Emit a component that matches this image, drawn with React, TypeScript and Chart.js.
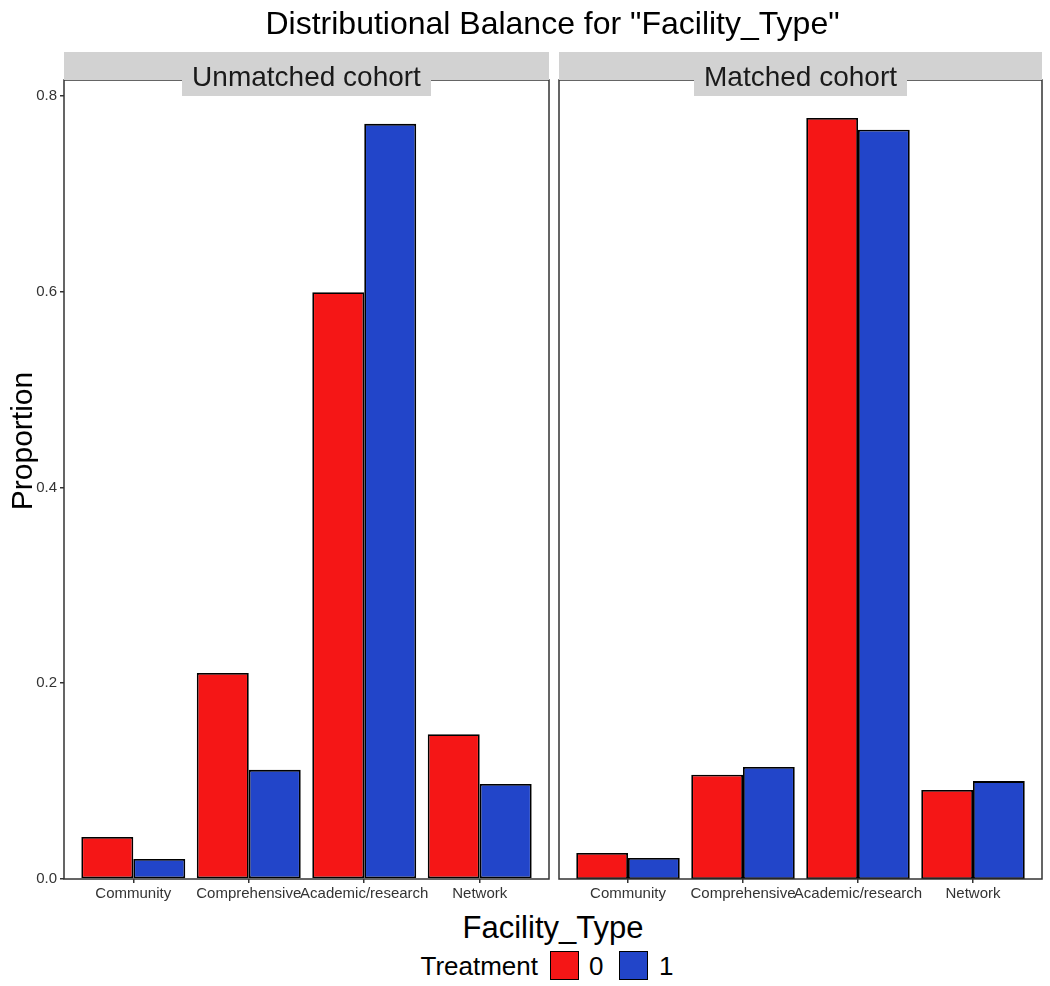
import React, { useEffect, useRef } from "react";
import { Chart, registerables } from "chart.js";

Chart.register(...registerables);

// ---- data ----
const categories = ["Community", "Comprehensive", "Academic/research", "Network"];
const unmatchedT0 = [0.043, 0.2105, 0.5995, 0.148];
const unmatchedT1 = [0.0205, 0.1115, 0.7715, 0.097];
const matchedT0 = [0.0265, 0.1065, 0.7775, 0.091];
const matchedT1 = [0.0215, 0.1145, 0.7655, 0.1];
const yTicks = [0, 0.2, 0.4, 0.6, 0.8];
const panelTitles = ["Unmatched cohort", "Matched cohort"];
const treatmentLevels = ["0", "1"];
const chartTitle = 'Distributional Balance for "Facility_Type"';
const xTitle = "Facility_Type";
const yTitle = "Proportion";
const legendTitle = "Treatment";

const RED = "#F51616";
const BLUE = "#2245C9";
const FONT = "'Liberation Sans', Arial, Helvetica, sans-serif";
const Y_MAX = 0.8163;

const panelBorder = {
  id: "panelBorder",
  afterDatasetsDraw(chart: any) {
    const { ctx, chartArea: a } = chart;
    ctx.save();
    ctx.strokeStyle = "#333333";
    ctx.lineWidth = 1.5;
    ctx.strokeRect(a.left, a.top, a.right - a.left, a.bottom - a.top);
    ctx.restore();
  },
};

function Panel(props: {
  t0: number[];
  t1: number[];
  showY: boolean;
  left: number;
  width: number;
  padLeft: number;
  padRight: number;
}) {
  const ref = useRef<HTMLCanvasElement | null>(null);
  useEffect(() => {
    if (!ref.current) return;
    const chart = new Chart(ref.current, {
      type: "bar",
      data: {
        datasets: [
          {
            label: treatmentLevels[0],
            data: props.t0.map((v, i) => ({ x: i, y: v })),
            backgroundColor: RED,
            borderColor: "#000000",
            borderWidth: 1.8,
            borderSkipped: false,
          },
          {
            label: treatmentLevels[1],
            data: props.t1.map((v, i) => ({ x: i, y: v })),
            backgroundColor: BLUE,
            borderColor: "#000000",
            borderWidth: 1.8,
            borderSkipped: false,
          },
        ] as any,
      },
      options: {
        animation: false,
        responsive: false,
        maintainAspectRatio: false,
        layout: {
          padding: { top: 80, left: props.padLeft, right: props.padRight, bottom: 0 },
        },
        datasets: { bar: { categoryPercentage: 0.9, barPercentage: 1 } } as any,
        plugins: {
          legend: { display: false },
          tooltip: { enabled: false },
          title: { display: false },
        },
        scales: {
          x: {
            type: "linear",
            min: -0.6,
            max: 3.6,
            offset: false,
            afterBuildTicks: (s: any) => {
              s.ticks = categories.map((_, i) => ({ value: i }));
            },
            afterFit: (s: any) => {
              s.height = 31;
            },
            ticks: {
              callback: (v: any) => categories[Math.round(Number(v))],
              font: { family: FONT, size: 15 },
              color: "#333333",
              padding: 2,
              maxRotation: 0,
              minRotation: 0,
              autoSkip: false,
            },
            grid: {
              offset: false,
              drawOnChartArea: false,
              drawTicks: true,
              tickLength: 4,
              color: "#333333",
              lineWidth: 1.5,
            },
            border: { display: false },
          },
          y: {
            display: props.showY,
            min: 0,
            max: Y_MAX,
            afterBuildTicks: (s: any) => {
              s.ticks = yTicks.map((v) => ({ value: v }));
            },
            afterFit: (s: any) => {
              if (props.showY) s.width = 64;
            },
            ticks: {
              callback: (v: any) => Number(v).toFixed(1),
              font: { family: FONT, size: 15 },
              color: "#333333",
              padding: 3,
            },
            grid: {
              drawOnChartArea: false,
              drawTicks: true,
              tickLength: 4,
              color: "#333333",
              lineWidth: 1.5,
            },
            border: { display: false },
          },
        } as any,
      },
      plugins: [panelBorder],
    });
    return () => chart.destroy();
  }, []);
  return (
    <canvas
      ref={ref}
      width={props.width}
      height={910}
      style={{ position: "absolute", left: props.left, top: 0, width: props.width, height: 910 }}
    />
  );
}

function textAt(text: string, fs: number, baseline: number, centerX: number, extra: any = {}) {
  return (
    <div
      style={{
        position: "absolute",
        left: centerX - 500,
        width: 1000,
        top: baseline - 0.8465 * fs,
        height: fs,
        lineHeight: `${fs}px`,
        fontSize: fs,
        fontFamily: FONT,
        textAlign: "center",
        color: "#000",
        whiteSpace: "nowrap",
        ...extra,
      }}
    >
      {text}
    </div>
  );
}

function Strip(props: { text: string; left: number; width: number }) {
  const fs = 28;
  return (
    <>
      <div
        style={{
          position: "absolute",
          left: props.left,
          top: 52,
          width: props.width,
          height: 28,
          background: "#D2D2D2",
        }}
      />
      <div
        style={{
          position: "absolute",
          left: props.left,
          top: 52,
          width: props.width,
          height: 44,
          display: "flex",
          justifyContent: "center",
        }}
      >
        <div
          style={{
            background: "#D2D2D2",
            height: 44,
            padding: "0 10px",
            position: "relative",
            fontFamily: FONT,
            fontSize: fs,
            whiteSpace: "nowrap",
            color: "#1A1A1A",
          }}
        >
          <div style={{ height: 44, lineHeight: `${fs}px`, paddingTop: 35 - 0.8465 * fs, boxSizing: "border-box" }}>
            {props.text}
          </div>
        </div>
      </div>
    </>
  );
}

export default function App() {
  return (
    <div
      style={{
        position: "absolute",
        left: 0,
        top: 0,
        width: 1050,
        height: 986,
        background: "#fff",
        overflow: "hidden",
      }}
    >
      <Panel t0={unmatchedT0} t1={unmatchedT1} showY={true} left={0} width={552} padLeft={0} padRight={3} />
      <Panel t0={matchedT0} t1={matchedT1} showY={false} left={552} width={498} padLeft={7} padRight={8} />
      <Strip text={panelTitles[0]} left={64} width={485} />
      <Strip text={panelTitles[1]} left={559} width={483} />
      {textAt(chartTitle, 32, 34, 552.5)}
      {textAt(xTitle, 31, 938, 553)}
      <div
        style={{
          position: "absolute",
          left: 22 - 200,
          top: 441 - 15,
          width: 400,
          height: 30,
          lineHeight: "30px",
          fontSize: 30,
          fontFamily: FONT,
          textAlign: "center",
          transform: "rotate(-90deg)",
          whiteSpace: "nowrap",
        }}
      >
        {yTitle}
      </div>
      {/* legend */}
      <div
        style={{
          position: "absolute",
          left: 300,
          width: 238,
          top: 975 - 0.8465 * 26,
          height: 26,
          lineHeight: "26px",
          fontSize: 26,
          fontFamily: FONT,
          textAlign: "right",
          whiteSpace: "nowrap",
        }}
      >
        {legendTitle}
      </div>
      <div
        style={{
          position: "absolute",
          left: 550,
          top: 951,
          width: 29,
          height: 29,
          background: RED,
          border: "1.8px solid #000",
          boxSizing: "border-box",
        }}
      />
      <div
        style={{
          position: "absolute",
          left: 589,
          top: 975 - 0.8465 * 26,
          height: 26,
          lineHeight: "26px",
          fontSize: 26,
          fontFamily: FONT,
        }}
      >
        {treatmentLevels[0]}
      </div>
      <div
        style={{
          position: "absolute",
          left: 619,
          top: 951,
          width: 29,
          height: 29,
          background: BLUE,
          border: "1.8px solid #000",
          boxSizing: "border-box",
        }}
      />
      <div
        style={{
          position: "absolute",
          left: 659,
          top: 975 - 0.8465 * 26,
          height: 26,
          lineHeight: "26px",
          fontSize: 26,
          fontFamily: FONT,
        }}
      >
        {treatmentLevels[1]}
      </div>
    </div>
  );
}
